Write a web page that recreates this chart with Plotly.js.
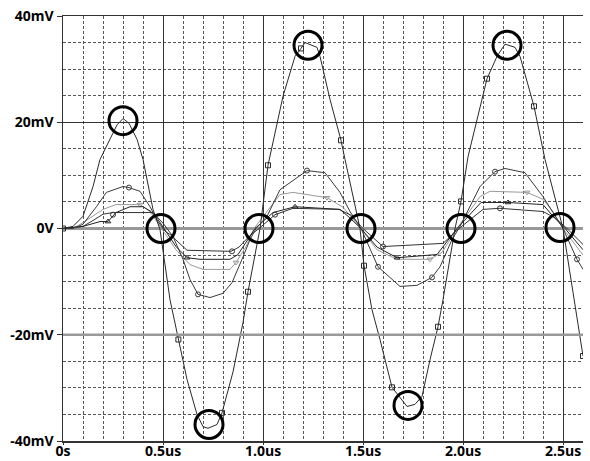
<!DOCTYPE html>
<html>
<head>
<meta charset="utf-8">
<script src="https://cdn.plot.ly/plotly-3.0.1.min.js"></script>
<style>html,body{margin:0;padding:0;background:#fff;}#chart{width:590px;height:461px;}</style>
</head>
<body>
<div id="chart"></div>
<script>
// Time in microseconds, voltage in millivolts
const tA = [0,0.05,0.1,0.15,0.185,0.235,0.27,0.3,0.33,0.37,0.4,0.45,0.485,0.535,0.577,0.62,0.67,0.70,0.725,0.77,0.795,0.85,0.9,0.925,0.985,1.025,1.1,1.16,1.19,1.21,1.27,1.285,1.335,1.39,1.41,1.485,1.505,1.545,1.585,1.645,1.72,1.76,1.795,1.835,1.875,1.9,1.96,1.99,2.025,2.12,2.17,2.21,2.26,2.285,2.355,2.41,2.50,2.545,2.57,2.6];
const vA = [0,0.4,2.3,7.9,13,16.8,19.5,20.7,19.8,16.8,13,3.6,-0.2,-13.4,-20.9,-28.4,-35,-37.3,-37.6,-36.9,-34.7,-27,-17.7,-11.9,0,11.9,24.9,32.4,33.9,35,34.1,32.4,24.3,16.6,13,0,-7,-15.3,-20.9,-29.9,-33.5,-33.1,-31.6,-24.7,-18.5,-13.4,0,5.1,13.5,28.2,32.4,34.7,34.1,32.4,23,13,0,-11,-17,-24];
const mtA = [0,0.577,0.795,0.925,1.025,1.19,1.39,1.505,1.645,1.875,1.99,2.12,2.355,2.6];
const mvA = [0,-20.9,-34.7,-11.9,11.9,33.9,16.6,-7,-29.9,-18.5,5.1,28.2,23,-24];

const tB = [0,0.05,0.1,0.167,0.217,0.3,0.33,0.385,0.435,0.475,0.51,0.55,0.6,0.635,0.675,0.735,0.8,0.845,0.895,0.935,0.965,1.02,1.085,1.22,1.31,1.385,1.435,1.49,1.575,1.65,1.685,1.77,1.845,1.885,1.945,1.985,2.085,2.16,2.21,2.31,2.4,2.45,2.5,2.57,2.6];
const vB = [0,0,0.8,4.1,6.8,7.9,7.7,7,4.1,1.3,-0.5,-1.5,-5.8,-9.6,-12.4,-13,-12.2,-10.2,-5.8,-2.1,0,2.3,7.3,10.9,10.5,6.8,3.2,0,-7.2,-9.6,-10.9,-10.7,-9.2,-7.2,-2.1,0.4,7.9,10.7,11.3,10.5,6.0,3.0,0,-5.8,-7.7];
const mtB = [0.33,0.675,1.22,1.575,1.845,2.16,2.57];
const mvB = [7.7,-12.4,10.9,-7.2,-9.2,10.7,-5.8];

const tC = [0,0.05,0.1,0.2,0.265,0.385,0.435,0.485,0.565,0.635,0.7,0.835,0.865,0.915,0.955,1.085,1.15,1.32,1.4,1.49,1.57,1.67,1.835,1.895,1.97,2.085,2.135,2.32,2.4,2.45,2.5,2.6];
const vC = [0,0,1.1,3.6,4.5,4.5,3.2,0.4,-4,-6.8,-7.7,-7.7,-6.4,-3.4,0,6.4,6.8,5.8,4.0,0,-4.0,-5.8,-5.8,-4.5,0,6.0,7.0,6.8,5.5,3.2,0,-5];
const mtC = [0.385,0.865,1.32,1.835,2.32];
const mvC = [4.5,-6.4,5.8,-5.8,6.8];

const tD = [0,0.1,0.185,0.225,0.265,0.335,0.4,0.44,0.475,0.565,0.62,0.685,0.835,0.875,0.915,0.96,1.05,1.16,1.385,1.425,1.49,1.57,1.67,1.87,1.97,2.09,2.225,2.4,2.45,2.51,2.6];
const vD = [0,0.4,1.3,1.3,3.0,4.1,4.1,3.2,1.7,-3.4,-5.5,-5.8,-5.8,-4.9,-2.6,0,3.0,4.1,3.6,2.3,0,-3.5,-5.5,-4.9,0,4.9,4.9,4.5,2.3,0,-4];
const mtD = [0.225,0.62,1.16,1.67,2.225];
const mvD = [1.3,-5.5,4.1,-5.5,4.9];

const tE = [0,0.1,0.15,0.2,0.25,0.45,0.5,0.56,0.62,0.84,0.88,0.93,0.98,1.06,1.15,1.38,1.44,1.5,1.6,1.9,1.98,2.1,2.185,2.4,2.46,2.52,2.6];
const vE = [0,0.4,1.5,2.7,3.0,3.0,1,-2,-4.1,-4.3,-3.5,-1.5,0,2.6,3.8,3.6,2.5,0,-3.4,-2.8,0,3.6,3.8,3.2,2,0,-3];
const mtE = [0.25,0.845,1.06,1.6,2.185];
const mvE = [2.6,-4.3,2.6,-3.4,3.8];

// Highlight circles
const circT = [0.3,0.49,0.73,0.98,1.225,1.49,1.725,1.99,2.22,2.485];
const circV = [20.3,0,-36.9,0,34.5,0,-33.3,0,34.5,0.2];

const xTickVals = [0,0.5,1.0,1.5,2.0,2.5];
const xTickText = ['0s','0.5us','1.0us','1.5us','2.0us','2.5us'];
const yTickVals = [-40,-20,0,20,40];
const yTickText = ['-40mV','-20mV','0V','20mV','40mV'];

function lineTrace(t, v, color) {
  return {x: t, y: v, mode: 'lines', type: 'scatter', line: {color: color, width: 1}, hoverinfo: 'skip', showlegend: false};
}
function markTrace(t, v, color, symbol) {
  return {x: t, y: v, mode: 'markers', type: 'scatter', marker: {symbol: symbol, size: 5, color: color, line: {color: color, width: 1}}, hoverinfo: 'skip', showlegend: false};
}

const data = [
  lineTrace(tC, vC, '#9a9a9a'), markTrace(mtC, mvC, '#9a9a9a', 'triangle-down-open'),
  lineTrace(tE, vE, '#333'), markTrace(mtE, mvE, '#333', 'circle-open'),
  lineTrace(tD, vD, '#222'), markTrace(mtD, mvD, '#222', 'triangle-up-open'),
  lineTrace(tB, vB, '#3a3a3a'), markTrace(mtB, mvB, '#3a3a3a', 'circle-open'),
  lineTrace(tA, vA, '#2a2a2a'), markTrace(mtA, mvA, '#2a2a2a', 'square-open'),
  {x: circT, y: circV, mode: 'markers', type: 'scatter', marker: {symbol: 'circle-open', size: 28, color: '#000', line: {color: '#000', width: 3}}, hoverinfo: 'skip', showlegend: false}
];

const tickFont = {family: 'Open Sans, sans-serif', size: 14, color: '#000', weight: 'bold'};

const layout = {
  width: 590, height: 461,
  margin: {l: 63, r: 7, t: 16, b: 20, pad: 0},
  paper_bgcolor: '#fff', plot_bgcolor: '#fff',
  showlegend: false,
  xaxis: {
    range: [0, 2.6], tickmode: 'array', tickvals: xTickVals, ticktext: xTickText,
    showgrid: true, gridcolor: '#333', gridwidth: 1,
    minor: {dtick: 0.1, tick0: 0, showgrid: true, gridcolor: '#555', gridwidth: 1, griddash: '3px,2px', ticks: ''},
    showline: true, linecolor: '#333', linewidth: 1.5, mirror: true,
    ticks: 'outside', ticklen: 2, tickcolor: '#333', ticklabelstandoff: -5,
    zeroline: false, tickfont: tickFont, fixedrange: true
  },
  yaxis: {
    range: [-40, 40], tickmode: 'array', tickvals: yTickVals, ticktext: yTickText,
    showgrid: true, gridcolor: '#333', gridwidth: 1,
    minor: {dtick: 5, tick0: 0, showgrid: true, gridcolor: '#555', gridwidth: 1, griddash: '3px,2px', ticks: ''},
    showline: true, linecolor: '#333', linewidth: 1.5,
    ticks: 'outside', ticklen: 5, tickcolor: '#333',
    zeroline: true, zerolinecolor: '#999', zerolinewidth: 2.5,
    tickfont: tickFont, fixedrange: true
  },
  shapes: [
    {type: 'line', xref: 'paper', x0: 0, x1: 1, yref: 'y', y0: -20, y1: -20, line: {color: '#999', width: 2.5}, layer: 'above'}
  ]
};

Plotly.newPlot('chart', data, layout, {staticPlot: true, displayModeBar: false});
</script>
</body>
</html>
